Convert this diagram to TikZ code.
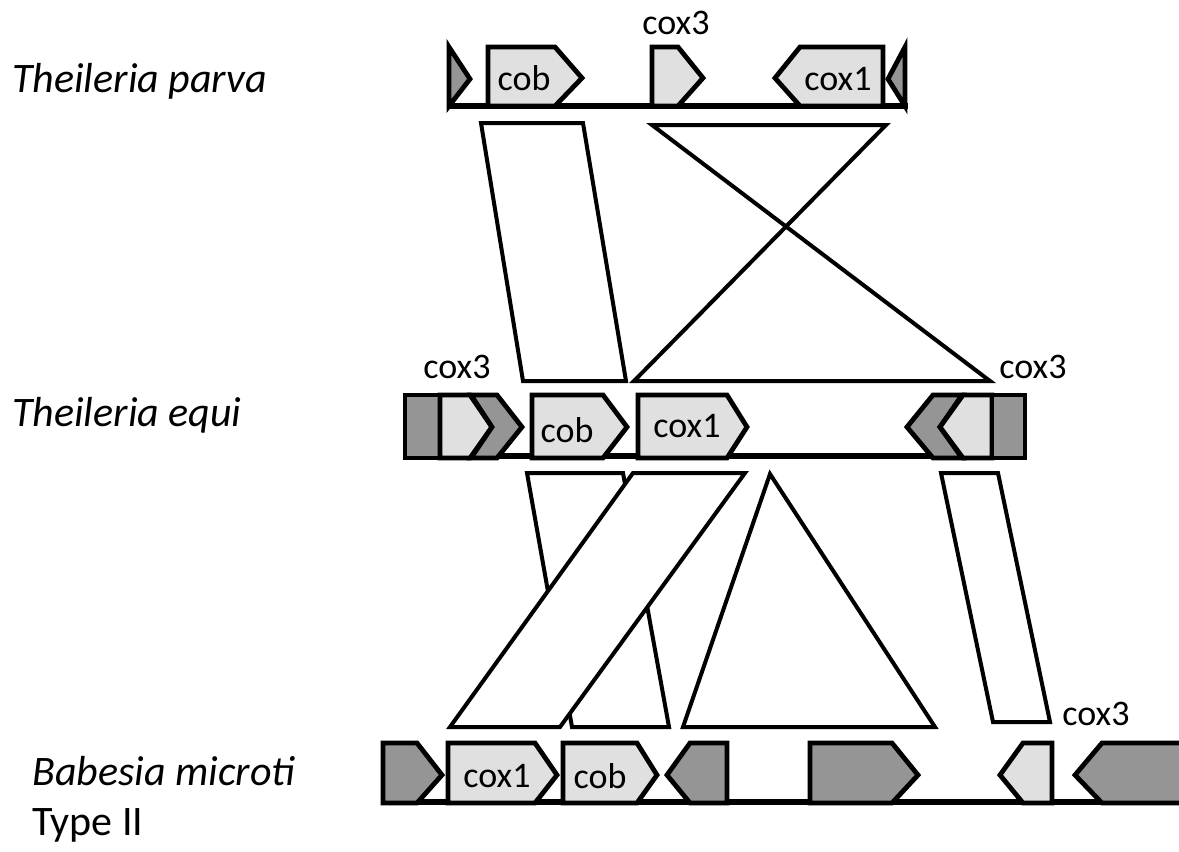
\documentclass[tikz,border=0pt]{standalone}
\usepackage{fontspec}
\setmainfont{Carlito}
\definecolor{genelight}{RGB}{224,224,224}
\definecolor{genedark}{RGB}{149,149,149}
\begin{document}
\begin{tikzpicture}[x=1pt,y=-1pt,
  gene/.style={draw=black,line width=4.8pt,line join=miter},
  lite/.style={gene,fill=genelight},
  dark/.style={gene,fill=genedark},
  dna/.style={draw=black,line width=5.5pt},
  syn/.style={draw=black,fill=white,line width=4pt,line join=miter},
  glabel/.style={font=\fontsize{36}{40}\selectfont,anchor=base,inner sep=0pt},
  species/.style={font=\fontsize{42}{46}\selectfont,anchor=base west,inner sep=0pt}]
\useasboundingbox (0,0) rectangle (1179,852);

% ---------- species names ----------
\node[species] (tp) at (12,92) {\itshape Theileria parva};
\node[species] (te) at (12,426) {\itshape Theileria equi};
\node[species] (bm) at (32,785) {\itshape Babesia microti};
\node[species] (bt) at (32,835) {Type II};

% ---------- synteny blocks: T. parva -> T. equi ----------
\draw[syn] (481,123) -- (583,123) -- (626,381) -- (523,381) -- cycle;
\draw[syn,fill=none] (652,125) -- (886,125) -- (634,381) -- (990,381) -- cycle;

% ---------- synteny blocks: T. equi -> B. microti ----------
\draw[syn] (527,473) -- (623,473) -- (669,727) -- (572,727) -- cycle;
\draw[syn] (633,473) -- (745,473) -- (560,727) -- (450,727) -- cycle;
\draw[syn] (770,474) -- (935,727) -- (683,727) -- cycle;
\draw[syn] (941,473) -- (998,473) -- (1050,722) -- (993,722) -- cycle;

% ---------- Theileria parva ----------
\coordinate (p0) at (447,106);
\coordinate (p1) at (908,106);
\draw[dna] (p0) -- (p1);
\draw[dark] (449,47) -- (470,79) -- (449,106) -- cycle;
\draw[lite] (488,47) -- (555,47) -- (582,78) -- (555,106) -- (488,106) -- cycle;
\node[glabel] (pcob) at (524,90) {cob};
\draw[lite] (652,47) -- (678,47) -- (703,78) -- (678,106) -- (652,106) -- cycle;
\node[glabel] (pcox3) at (676,34) {cox3};
\draw[lite] (883,47) -- (800,47) -- (775,78) -- (800,106) -- (883,106) -- cycle;
\node[glabel] (pcox1) at (838,90) {cox1};
\draw[dark] (905,47) -- (888,79) -- (905,106) -- cycle;

% ---------- Theileria equi ----------
\coordinate (e0) at (404,456);
\coordinate (e1) at (1025,456);
\draw[dna] (e0) -- (e1);
\draw[dark] (405,395) rectangle (440,458);
\draw[lite] (440,395) -- (470,395) -- (492,427) -- (470,458) -- (440,458) -- cycle;
\draw[dark] (471,395) -- (497,395) -- (522,427) -- (497,458) -- (471,458) -- (492,427) -- cycle;
\draw[lite] (532,395) -- (603,395) -- (627,427) -- (603,458) -- (532,458) -- cycle;
\node[glabel] (ecob) at (567,442) {cob};
\draw[lite] (638,395) -- (727,395) -- (747,427) -- (727,458) -- (638,458) -- cycle;
\node[glabel] (ecox1) at (687,437) {cox1};
\draw[dark] (962,395) -- (933,395) -- (907,427) -- (933,458) -- (962,458) -- (940,427) -- cycle;
\draw[lite] (992,395) -- (963,395) -- (940,427) -- (963,458) -- (992,458) -- cycle;
\draw[dark] (992,395) rectangle (1025,458);
\node[glabel] (ecox3a) at (457,378) {cox3};
\node[glabel] (ecox3b) at (1033,378) {cox3};

% ---------- Babesia microti type II ----------
\coordinate (b0) at (381,802);
\coordinate (b1) at (1179,802);
\draw[dna] (b0) -- (b1);
\draw[dark] (383,743) -- (417,743) -- (442,775) -- (417,803) -- (383,803) -- cycle;
\draw[lite] (448,743) -- (535,743) -- (557,775) -- (535,803) -- (448,803) -- cycle;
\node[glabel] (bcox1) at (497,787) {cox1};
\draw[lite] (563,743) -- (637,743) -- (657,775) -- (637,803) -- (563,803) -- cycle;
\node[glabel] (bcob) at (600,788) {cob};
\draw[dark] (727,743) -- (690,743) -- (667,775) -- (690,803) -- (727,803) -- cycle;
\draw[dark] (810,743) -- (892,743) -- (918,775) -- (892,803) -- (810,803) -- cycle;
\draw[lite] (1052,743) -- (1023,743) -- (1000,775) -- (1023,803) -- (1052,803) -- cycle;
\draw[dark] (1190,743) -- (1102,743) -- (1075,775) -- (1102,803) -- (1190,803);
\node[glabel] (bcox3) at (1096,725) {cox3};
\end{tikzpicture}
\end{document}
